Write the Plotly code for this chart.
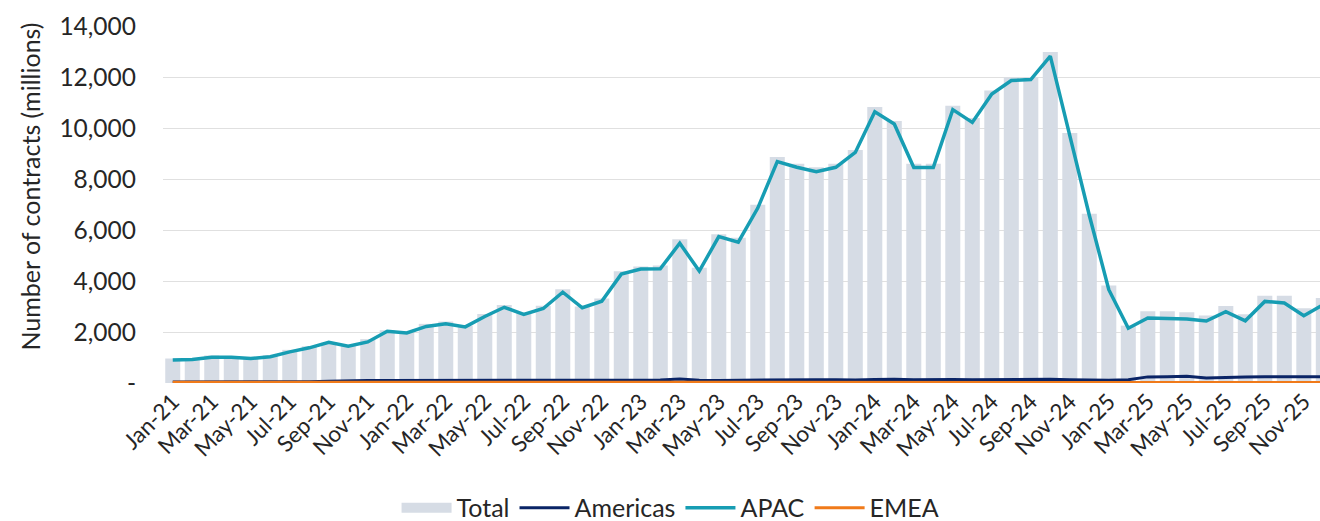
import plotly.graph_objects as go

months = [
    "Jan-21", "Feb-21", "Mar-21", "Apr-21", "May-21", "Jun-21", "Jul-21", "Aug-21", "Sep-21", "Oct-21", "Nov-21", "Dec-21",
    "Jan-22", "Feb-22", "Mar-22", "Apr-22", "May-22", "Jun-22", "Jul-22", "Aug-22", "Sep-22", "Oct-22", "Nov-22", "Dec-22",
    "Jan-23", "Feb-23", "Mar-23", "Apr-23", "May-23", "Jun-23", "Jul-23", "Aug-23", "Sep-23", "Oct-23", "Nov-23", "Dec-23",
    "Jan-24", "Feb-24", "Mar-24", "Apr-24", "May-24", "Jun-24", "Jul-24", "Aug-24", "Sep-24", "Oct-24", "Nov-24", "Dec-24",
    "Jan-25", "Feb-25", "Mar-25", "Apr-25", "May-25", "Jun-25", "Jul-25", "Aug-25", "Sep-25", "Oct-25", "Nov-25", "Dec-25",
]

total = [
    960, 930, 1080, 1040, 1000, 1090, 1300, 1440, 1580, 1450, 1720, 2070,
    2000, 2320, 2410, 2250, 2710, 3060, 2750, 3030, 3680, 3000, 3310, 4380,
    4570, 4610, 5640, 4520, 5830, 5700, 6990, 8860, 8600, 8460, 8600, 9140,
    10820, 10270, 8600, 8600, 10870, 10390, 11470, 11980, 11990, 12980, 9800, 6640,
    3820, 2250, 2810, 2810, 2770, 2650, 3020, 2700, 3420, 3420, 2930, 3330,
]

apac = [
    900, 920, 1010, 1010, 960, 1030, 1220, 1380, 1600, 1440, 1610, 2030,
    1960, 2220, 2320, 2200, 2610, 2970, 2690, 2920, 3560, 2950, 3210, 4270,
    4470, 4480, 5480, 4390, 5740, 5520, 6860, 8680, 8460, 8290, 8460, 9040,
    10640, 10160, 8450, 8450, 10720, 10220, 11330, 11860, 11900, 12820, 9700, 6580,
    3660, 2150, 2550, 2520, 2510, 2430, 2800, 2440, 3200, 3140, 2640, 3070,
]

americas = [
    40, 40, 40, 40, 40, 40, 40, 50, 70, 90, 100, 100,
    100, 100, 100, 100, 100, 100, 100, 100, 100, 100, 100, 100,
    110, 120, 160, 110, 100, 110, 110, 130, 120, 130, 130, 120,
    140, 150, 130, 140, 140, 130, 140, 150, 150, 150, 130, 110,
    110, 130, 240, 250, 260, 200, 230, 240, 250, 250, 250, 250,
]

emea = [
    30, 30, 30, 30, 30, 30, 30, 30, 30, 30, 30, 30,
    30, 30, 30, 30, 30, 30, 30, 30, 30, 30, 30, 30,
    35, 35, 35, 35, 35, 35, 35, 35, 35, 35, 35, 35,
    40, 40, 40, 40, 40, 40, 40, 40, 40, 40, 40, 40,
    40, 40, 40, 40, 40, 40, 40, 35, 35, 30, 25, 20,
]

y_ticks = [0, 2000, 4000, 6000, 8000, 10000, 12000, 14000]
y_tick_text = ["-", "2,000", "4,000", "6,000", "8,000", "10,000", "12,000", "14,000"]
y_title = "Number of contracts (millions)"

FONT = "Lato, 'Open Sans', sans-serif"
TXT = "#262626"
BAR = "#d6dce5"

fig = go.Figure()
fig.add_trace(go.Bar(x=months, y=total, name="Total", marker_color=BAR, marker_line_width=0,
                     showlegend=False, legendgroup="total"))
# legend swatch for the Total bars
fig.add_trace(go.Scatter(x=[months[0]], y=[None], name="Total", mode="lines",
                         line=dict(color=BAR, width=20), legendgroup="total", hoverinfo="skip"))
fig.add_trace(go.Scatter(x=months, y=americas, name="Americas", mode="lines",
                         line=dict(color="#0a2466", width=3)))
fig.add_trace(go.Scatter(x=months, y=apac, name="APAC", mode="lines",
                         line=dict(color="#179db3", width=3.5)))
fig.add_trace(go.Scatter(x=months, y=emea, name="EMEA", mode="lines",
                         line=dict(color="#f07a1a", width=3)))

fig.update_layout(
    width=1320, height=521,
    margin=dict(l=163, r=0, t=26, b=138),
    paper_bgcolor="white", plot_bgcolor="white",
    bargap=0.23,
    font=dict(family=FONT, size=24, color=TXT),
    showlegend=True,
    legend=dict(orientation="h", xref="container", yref="container",
                x=0.508, xanchor="center", y=0.025, yanchor="middle",
                font=dict(size=25, color=TXT), traceorder="normal",
                itemwidth=50),
    annotations=[dict(text=y_title, xref="paper", yref="paper",
                      x=-0.115, y=0.55, xanchor="center", yanchor="middle",
                      textangle=-90, showarrow=False,
                      font=dict(size=25, color=TXT))],
)
fig.update_xaxes(
    type="category", range=[-0.5, 58.83],
    tickmode="array", tickvals=months[::2], ticktext=months[::2],
    tickangle=-45, showgrid=False, showline=False, ticks="",
    tickfont=dict(size=22.5, color=TXT),
)
fig.update_yaxes(
    range=[0, 14000], tickmode="array", tickvals=y_ticks, ticktext=y_tick_text,
    showgrid=True, gridcolor="#e0e0e0", gridwidth=1, zeroline=False, showline=False,
    tickfont=dict(size=24.5, color=TXT), ticklabelstandoff=26,
)

fig.write_html("out.html")
